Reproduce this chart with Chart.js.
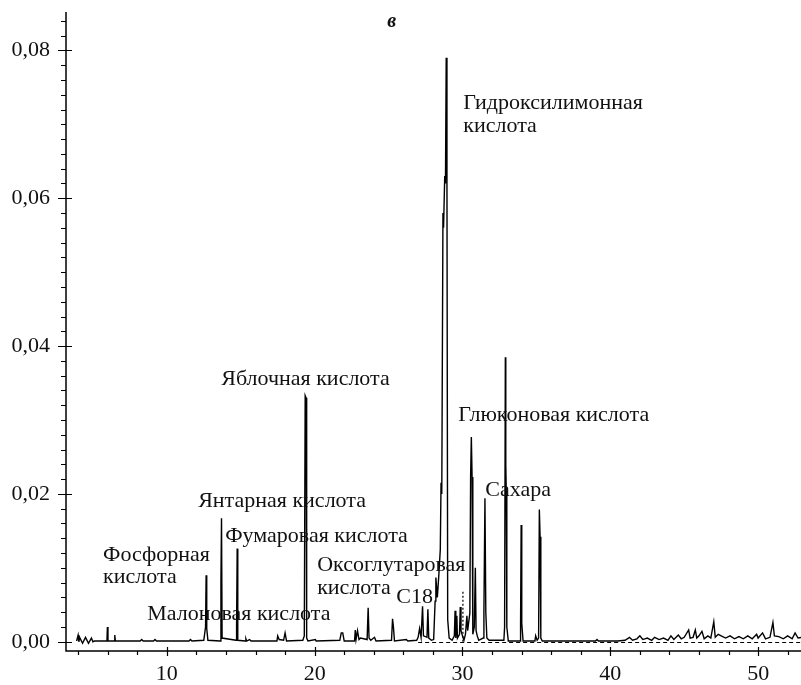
<!DOCTYPE html>
<html>
<head>
<meta charset="utf-8">
<script src="https://cdn.jsdelivr.net/npm/chart.js@4/dist/chart.umd.min.js"></script>
<style>
    body { margin: 0; background: #fff; }
    canvas { display: block; }
</style>
</head>
<body>
<canvas id="chart" width="801" height="685"></canvas>
<script>
// retention time, min
const retentionTime = [
    3.9, 4.0, 4.05, 4.1, 4.3, 4.5, 4.7, 4.9, 5.0, 5.1,
    5.95, 5.98, 6.02, 6.45, 6.48, 6.52, 8.2, 8.3, 8.4, 9.1, 9.2, 9.3,
    11.5, 11.6, 11.7, 12.5, 12.62, 12.66, 12.7, 12.78,
    13.6, 13.66, 13.7, 13.74, 14.68, 14.72, 14.76, 14.8,
    15.3, 15.35, 15.4, 15.6, 15.7, 17.45, 17.5, 17.6, 17.9, 18.0, 18.1,
    19.2, 19.3, 19.36, 19.42, 19.46, 19.55, 20.05, 20.1,
    21.7, 21.8, 21.9, 22.0, 22.7, 22.75, 22.8, 22.9, 23.0, 23.1,
    23.55, 23.62, 23.68, 23.8, 24.05, 24.15, 25.2, 25.27, 25.33, 25.4, 26.2, 26.3,
    26.9, 27.0, 27.1, 27.2, 27.3, 27.36, 27.6, 27.66, 27.72, 27.9,
    28.05, 28.15, 28.2, 28.3, 28.4, 28.5, 28.55, 28.6, 28.68, 28.72, 28.8, 28.85, 28.9, 28.95, 29.0, 29.1,
    29.3, 29.45, 29.5, 29.55, 29.62, 29.66, 29.8, 29.85, 29.9, 30.0, 30.1,
    30.2, 30.3, 30.35, 30.5, 30.55, 30.6, 30.65, 30.7, 30.8, 30.87, 30.92, 31.0, 31.1,
    31.4, 31.45, 31.52, 31.58, 31.65, 31.8, 32.8, 32.85, 32.9, 32.93, 32.96, 33.0, 33.1,
    33.9, 33.93, 33.97, 34.01, 34.1, 34.9, 34.95, 35.05, 35.15, 35.2, 35.25, 35.3, 35.4,
    39.0, 39.1, 39.2, 40.5, 41.0, 41.3, 41.5, 41.8, 42.0, 42.2, 42.5, 42.8, 43.0, 43.3, 43.6, 43.9,
    44.1, 44.3, 44.6, 44.8, 45.0, 45.3, 45.4, 45.6, 45.75, 45.85, 46.0, 46.2, 46.35, 46.6, 46.8,
    47.0, 47.1, 47.3, 47.5, 47.8, 48.1, 48.4, 48.7, 49.0, 49.3, 49.6, 49.9, 50.0, 50.3, 50.5,
    50.8, 51.0, 51.1, 51.4, 51.7, 52.0, 52.3, 52.5, 52.7, 53.0
];

// detector response
const response = [
    0.0001, 0.0009, 0.0, 0.0006, -0.0002, 0.0006, -0.0002, 0.0005, 0.0, 0.0001,
    0.0001, 0.002, 0.0001, 0.0001, 0.0009, 0.0001, 0.0001, 0.0003, 0.0001, 0.0001, 0.0003, 0.0001,
    0.0001, 0.0003, 0.0001, 0.0002, 0.002, 0.009, 0.0018, 0.0002,
    0.0001, 0.008, 0.0167, 0.0005, 0.0002, 0.0025, 0.0126, 0.0002,
    0.0001, 0.0004, 0.0001, 0.0003, 0.0001, 0.0001, 0.0008, 0.0003, 0.0002, 0.0012, 0.0001,
    0.0002, 0.0008, 0.0333, 0.033, 0.0005, 0.0001, 0.0003, 0.0001,
    0.0002, 0.0012, 0.0012, 0.0001, 0.0001, 0.0016, 0.0003, 0.0015, 0.0003, 0.0005,
    0.0003, 0.0046, 0.0005, 0.0002, 0.0006, 0.0001, 0.0002, 0.0031, 0.002, 0.0001, 0.0003, 0.0001,
    0.0002, 0.0006, 0.0018, 0.0006, 0.0048, 0.0008, 0.0006, 0.0044, 0.0005, 0.0002,
    0.0003, 0.0055, 0.0087, 0.006, 0.009, 0.0125, 0.0215, 0.02, 0.058, 0.056, 0.063, 0.062, 0.079, 0.062, 0.003, 0.0005,
    0.0002, 0.0008, 0.0042, 0.0005, 0.0035, 0.0005, 0.001, 0.0047, 0.0015, 0.0008, 0.0002,
    0.001, 0.0035, 0.0015, 0.0039, 0.0223, 0.0277, 0.0223, 0.001, 0.002, 0.01, 0.0015, 0.0008, 0.0002,
    0.0005, 0.0039, 0.0194, 0.0039, 0.0005, 0.0002, 0.0002, 0.002, 0.0385, 0.024, 0.0205, 0.002, 0.0001,
    0.0001, 0.0025, 0.0158, 0.0025, 0.0001, 0.0001, 0.0008, 0.0002, 0.0005, 0.0179, 0.0142, 0.0005, 0.0001,
    0.0001, 0.0003, 0.0001, 0.0001, 0.0002, 0.0006, 0.0002, 0.0004, 0.0008, 0.0003, 0.0005, 0.0002, 0.0006, 0.0003, 0.0005, 0.0002,
    0.0008, 0.0003, 0.0009, 0.0004, 0.0006, 0.0016, 0.0005, 0.0006, 0.0016, 0.0005, 0.0008, 0.0014, 0.0004, 0.0008, 0.0005,
    0.0027, 0.0006, 0.001, 0.0008, 0.0005, 0.0008, 0.0004, 0.0007, 0.0004, 0.0008, 0.0004, 0.001, 0.0005, 0.0012, 0.0004,
    0.0006, 0.0026, 0.0008, 0.0007, 0.0004, 0.0008, 0.0004, 0.0012, 0.0005, 0.0006
];

// dashed baseline and marker
const baselineTime = [27.0, 53.0];
const baselineValue = [-0.0001, -0.0001];
const markerTime = [30.03, 30.03];
const markerValue = [0.0, 0.007];

const xMajorTicks = [10, 20, 30, 40, 50];
const xTickLabels = ['10', '20', '30', '40', '50'];
const yMajorTicks = [0, 0.02, 0.04, 0.06, 0.08];
const yTickLabels = ['0,00', '0,02', '0,04', '0,06', '0,08'];

const peakNames = [
    { text: 'в', x: 24.91, y: 0.0832, title: true },
    { text: 'Гидроксилимонная', x: 30.05, y: 0.0721 },
    { text: 'кислота', x: 30.05, y: 0.0689 },
    { text: 'Яблочная кислота', x: 13.68, y: 0.0347 },
    { text: 'Глюконовая кислота', x: 29.72, y: 0.0299 },
    { text: 'Сахара', x: 31.54, y: 0.0197 },
    { text: 'Янтарная кислота', x: 12.12, y: 0.0182 },
    { text: 'Фумаровая кислота', x: 13.95, y: 0.0135 },
    { text: 'Фосфорная', x: 5.69, y: 0.0109 },
    { text: 'кислота', x: 5.69, y: 0.0079 },
    { text: 'Малоновая кислота', x: 8.67, y: 0.0029 },
    { text: 'Оксоглутаровая', x: 20.17, y: 0.0096 },
    { text: 'кислота', x: 20.17, y: 0.0065 },
    { text: 'C18', x: 25.52, y: 0.0052 }
];

const toPoints = (xs, ys) => xs.map((x, i) => ({ x: x, y: ys[i] }));

// axis lines, tick marks and peak names
const axesAndNames = {
    id: 'axesAndNames',
    afterDraw(chart) {
        const ctx = chart.ctx;
        const xs = chart.scales.x;
        const ys = chart.scales.y;
        const left = chart.chartArea.left;
        const bottom = chart.chartArea.bottom;
        ctx.save();
        ctx.strokeStyle = '#000';
        ctx.lineWidth = 1.5;
        ctx.beginPath();
        ctx.moveTo(left, ys.getPixelForValue(0.0852));
        ctx.lineTo(left, bottom);
        ctx.lineTo(chart.chartArea.right, bottom);
        ctx.stroke();

        ctx.lineWidth = 1.2;
        ctx.beginPath();
        for (let t = 4; t <= 52; t += 2) {
            const px = Math.round(xs.getPixelForValue(t)) + 0.5;
            if (t % 10 === 0) {
                ctx.moveTo(px, bottom - 4);
                ctx.lineTo(px, bottom + 5);
            } else {
                ctx.moveTo(px, bottom);
                ctx.lineTo(px, bottom + 4);
            }
        }
        for (let k = 0; k <= 42; k++) {
            const py = Math.round(ys.getPixelForValue(k * 0.002)) + 0.5;
            if (k % 10 === 0) {
                ctx.moveTo(left - 8, py);
                ctx.lineTo(left + 6, py);
            } else {
                ctx.moveTo(left - 5, py);
                ctx.lineTo(left, py);
            }
        }
        ctx.stroke();

        ctx.fillStyle = '#111';
        ctx.textAlign = 'left';
        ctx.textBaseline = 'alphabetic';
        peakNames.forEach(n => {
            ctx.font = n.title ? 'italic bold 20px "Liberation Serif"' : '22px "Liberation Serif"';
            ctx.fillText(n.text, xs.getPixelForValue(n.x), ys.getPixelForValue(n.y));
        });
        ctx.restore();
    }
};

new Chart(document.getElementById('chart'), {
    type: 'line',
    data: {
        datasets: [
            {
                data: toPoints(retentionTime, response),
                borderColor: '#000',
                borderWidth: 1.4,
                pointRadius: 0,
                tension: 0
            },
            {
                data: toPoints(baselineTime, baselineValue),
                borderColor: '#000',
                borderWidth: 1.2,
                borderDash: [4, 3],
                pointRadius: 0
            },
            {
                data: toPoints(markerTime, markerValue),
                borderColor: '#000',
                borderWidth: 1.2,
                borderDash: [2, 2],
                pointRadius: 0
            }
        ]
    },
    options: {
        responsive: false,
        animation: false,
        devicePixelRatio: 1,
        layout: { padding: { top: 12, left: 0, right: 0, bottom: 0 } },
        plugins: {
            legend: { display: false },
            tooltip: { enabled: false }
        },
        scales: {
            x: {
                type: 'linear',
                min: 3.18,
                max: 52.9,
                afterBuildTicks: scale => { scale.ticks = xMajorTicks.map(v => ({ value: v })); },
                afterFit: scale => {
                    scale.height = 34;
                    scale.paddingLeft = 0;
                    scale.paddingRight = 0;
                },
                grid: { display: false, drawTicks: true, tickLength: 5 },
                border: { display: false },
                ticks: {
                    autoSkip: false,
                    maxRotation: 0,
                    padding: 7,
                    color: '#111',
                    font: { family: 'Liberation Serif', size: 22, lineHeight: 1 },
                    callback: (value, index) => xTickLabels[index]
                }
            },
            y: {
                type: 'linear',
                min: -0.00125,
                max: 0.0852,
                afterBuildTicks: scale => { scale.ticks = yMajorTicks.map(v => ({ value: v })); },
                afterFit: scale => {
                    scale.width = 66;
                    scale.paddingTop = 0;
                    scale.paddingBottom = 0;
                },
                grid: { display: false, drawTicks: true, tickLength: 5 },
                border: { display: false },
                ticks: {
                    autoSkip: false,
                    padding: 11,
                    color: '#111',
                    font: { family: 'Liberation Serif', size: 22, lineHeight: 1 },
                    callback: (value, index) => yTickLabels[index]
                }
            }
        }
    },
    plugins: [axesAndNames]
});
</script>
</body>
</html>
